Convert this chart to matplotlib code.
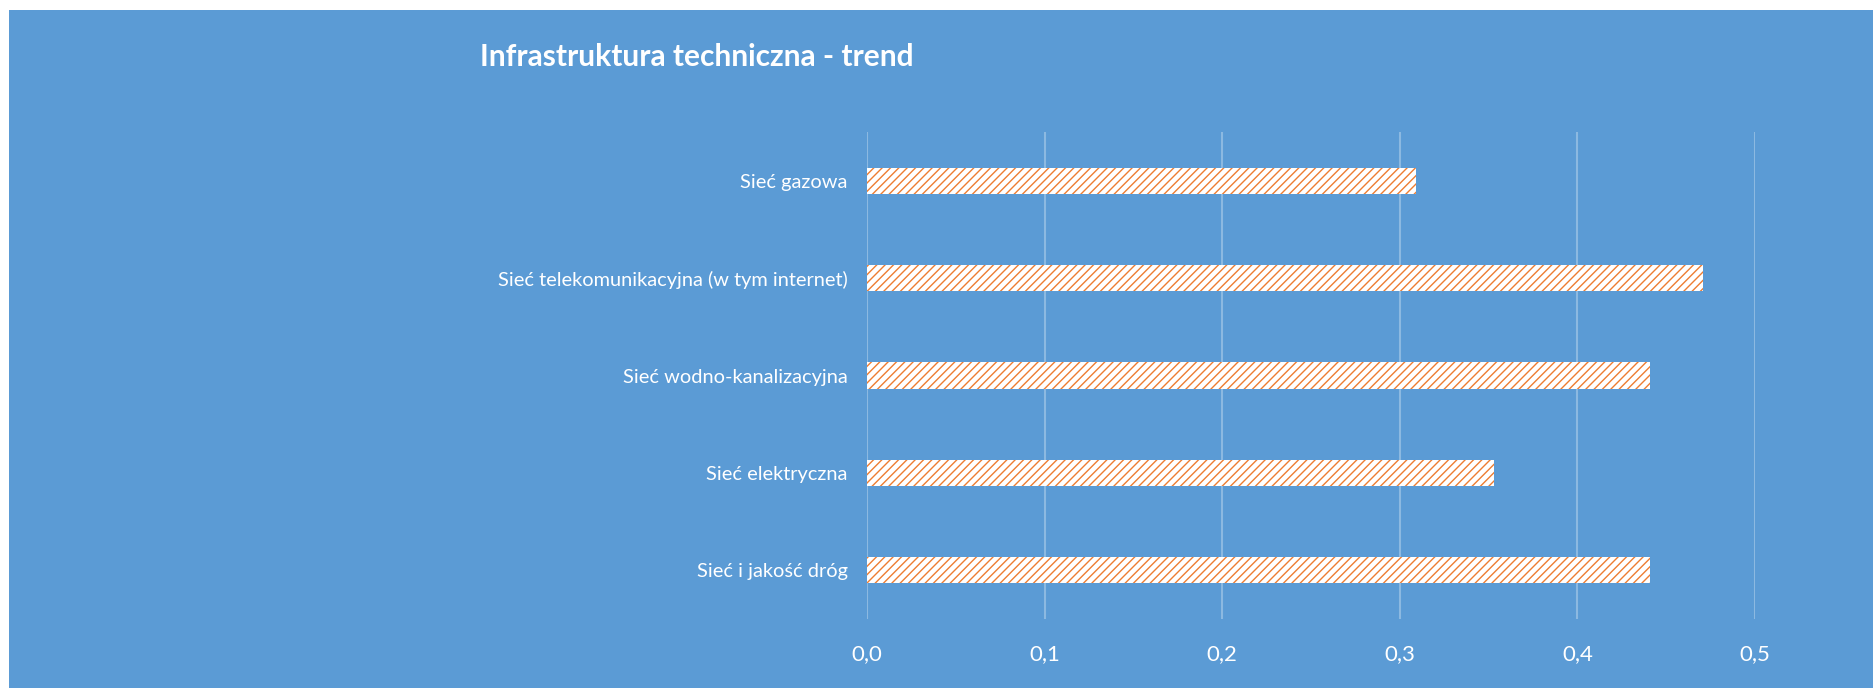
import numpy as np
import matplotlib.pyplot as plt
from matplotlib.patches import Rectangle

plt.rcParams['font.family'] = ['Lato', 'DejaVu Sans']
plt.rcParams['hatch.linewidth'] = 1.0

# categories listed bottom to top
categories = ['Sieć i jakość dróg', 'Sieć elektryczna', 'Sieć wodno-kanalizacyjna',
              'Sieć telekomunikacyjna (w tym internet)', 'Sieć gazowa']
values = [0.441, 0.353, 0.441, 0.471, 0.309]
xticks = [0.0, 0.1, 0.2, 0.3, 0.4, 0.5]
xticklabels = ['0,0', '0,1', '0,2', '0,3', '0,4', '0,5']

blue = '#5B9BD5'
orange = '#ED7D31'

fig = plt.figure(figsize=(18.74, 6.88), dpi=100)
fig.patch.set_facecolor('white')
fig.patches.append(Rectangle((9 / 1874, 0), 1, 1 - 10 / 688, transform=fig.transFigure,
                             facecolor=blue, edgecolor='none', zorder=0))

ax = fig.add_axes([867 / 1874, 1 - 619 / 688, (1755 - 867) / 1874, (619 - 132) / 688])
ax.set_zorder(2)
ax.set_facecolor(blue)

y = np.arange(len(categories))
ax.barh(y, values, height=0.267, color='white', edgecolor=orange, hatch='////',
        linewidth=0, zorder=3)

ax.set_xlim(0, 0.5)
ax.set_ylim(-0.5, len(categories) - 0.5)
ax.set_xticks(xticks)
ax.set_xticklabels(xticklabels, fontsize=16, color='white')
ax.set_yticks(y)
ax.set_yticklabels(categories, fontsize=14.4, color='white')
ax.tick_params(axis='both', length=0)
ax.tick_params(axis='x', pad=18)
ax.tick_params(axis='y', pad=14)
ax.grid(axis='x', color='white', alpha=0.3, linewidth=1.5, zorder=1)
for s in ax.spines.values():
    s.set_visible(False)

fig.text(480 / 1874, 1 - 57 / 688, 'Infrastruktura techniczna - trend', fontsize=21.5,
         fontweight='bold', color='white', va='center', ha='left', zorder=3)

fig.savefig('out.png', dpi=100)
